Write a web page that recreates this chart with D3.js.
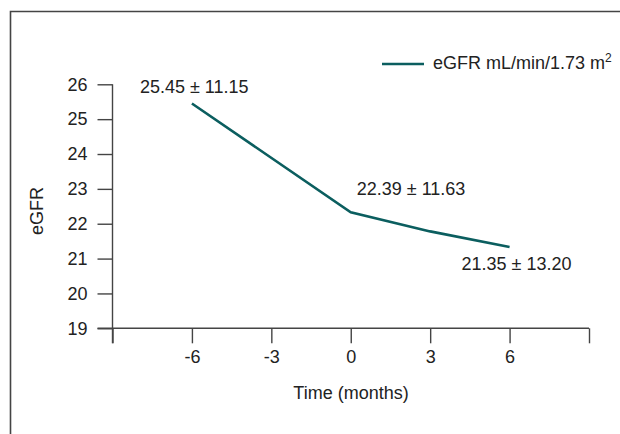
<!DOCTYPE html>
<html>
<head>
<meta charset="utf-8">
<script src="https://cdn.jsdelivr.net/npm/d3@7"></script>
<style>
  body { margin: 0; background: #fff; }
  svg text { font-family: "Liberation Sans", Arial, sans-serif; fill: #222; }
</style>
</head>
<body>
<svg width="620" height="434"></svg>
<script>
// Data
const months = [-6, 0, 3, 6];
const egfr = [25.45, 22.33, 21.78, 21.33];
const pointLabels = ["25.45 \u00B1 11.15", "22.39 \u00B1 11.63", "", "21.35 \u00B1 13.20"];
const xTicks = [-9, -6, -3, 0, 3, 6, 9];
const yTicks = [19, 20, 21, 22, 23, 24, 25, 26];
const seriesName = "eGFR mL/min/1.73 m";

const svg = d3.select("svg"),
  width = +svg.attr("width"),
  height = +svg.attr("height");

const lineColor = "#0b5e5f";
const axisColor = "#444";
const fontSize = "18px";

// frame
svg.append("path")
    .attr("d", `M10.5,${height} V11.5 H${width}`)
    .attr("fill", "none")
    .attr("stroke", "#444")
    .attr("stroke-width", 1.6);

// Scales
const x = d3.scaleLinear().domain([-9, 9]).range([112.5, 589]);
const y = d3.scaleLinear().domain([19, 26]).range([328.3, 84.3]);

// Axes
const xAxis = svg.append("g")
    .attr("transform", `translate(0,${y(19)})`)
    .call(d3.axisBottom(x)
        .tickValues(xTicks)
        .tickSize(15)
        .tickPadding(7)
        .tickFormat(d => Math.abs(d) === 9 ? "" : String(d)));

const yAxis = svg.append("g")
    .attr("transform", `translate(${x(-9)},0)`)
    .call(d3.axisLeft(y)
        .tickValues(yTicks)
        .tickSize(15)
        .tickPadding(10)
        .tickFormat(d => String(d)));

[xAxis, yAxis].forEach(g => {
  g.select(".domain").attr("stroke", axisColor).attr("stroke-width", 1.4);
  g.selectAll(".tick line").attr("stroke", axisColor).attr("stroke-width", 1.4);
  g.selectAll(".tick text")
      .attr("fill", "#222")
      .style("font-family", "'Liberation Sans', Arial, sans-serif")
      .style("font-size", fontSize);
});
// extend x domain line left to y tick length
xAxis.select(".domain").attr("d", `M${x(-9) - 15},0H${x(9)}`);
yAxis.select(".domain").attr("d", `M0,${y(26)}V${y(19) + 15}`);

// Line
const line = d3.line()
    .x((d, i) => x(months[i]))
    .y(d => y(d));

svg.append("path")
    .datum(egfr)
    .attr("d", line)
    .attr("fill", "none")
    .attr("stroke", lineColor)
    .attr("stroke-width", 2.6);

// Point labels
const labelOffsets = [[-52, -10], [6, -17], [0, 0], [-48, 23]];
const labelData = pointLabels
    .map((t, i) => ({ t, m: months[i], v: egfr[i], off: labelOffsets[i] }))
    .filter(d => d.t !== "");

svg.append("g")
    .selectAll("text")
    .data(labelData)
    .enter()
    .append("text")
    .attr("x", d => x(d.m) + d.off[0])
    .attr("y", d => y(d.v) + d.off[1])
    .style("font-size", fontSize)
    .text(d => d.t);

// Axis titles
svg.append("text")
    .attr("x", 351)
    .attr("y", 399)
    .attr("text-anchor", "middle")
    .style("font-size", fontSize)
    .text("Time (months)");

svg.append("text")
    .attr("transform", "translate(43,211) rotate(-90)")
    .attr("text-anchor", "middle")
    .style("font-size", fontSize)
    .text("eGFR");

// Legend
svg.append("line")
    .attr("x1", 382).attr("x2", 424)
    .attr("y1", 64).attr("y2", 64)
    .attr("stroke", lineColor)
    .attr("stroke-width", 2.6);

const legendText = svg.append("text")
    .attr("x", 433)
    .attr("y", 69)
    .style("font-size", fontSize)
    .text(seriesName);
legendText.append("tspan")
    .attr("dy", -7)
    .style("font-size", "12px")
    .text("2");
</script>
</body>
</html>
